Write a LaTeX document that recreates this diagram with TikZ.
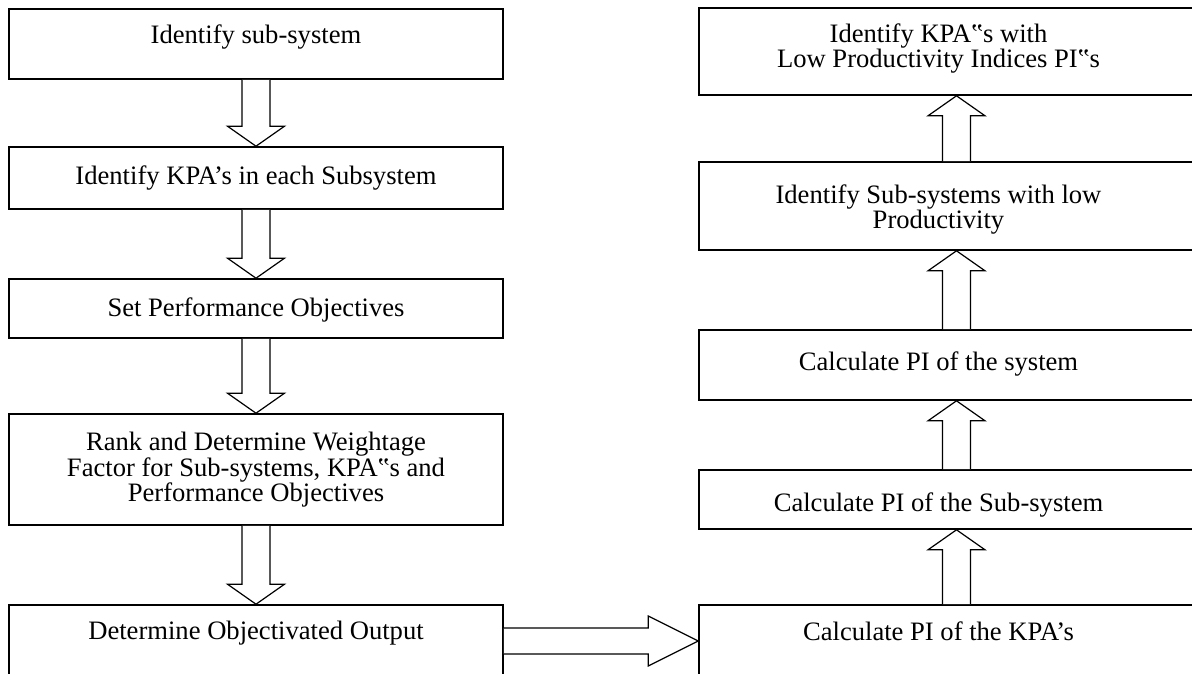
\documentclass[tikz,border=0pt]{standalone}
\usepackage{fontspec}
\setmainfont{Liberation Serif}
\usetikzlibrary{calc}

% outlined block arrow from one box to the next (#3: + down, - up)
\newcommand{\blockarrow}[3]{%
  \draw[blk] let \p1=(#1), \p2=(#2) in
    (\x1-14pt,\y1) -- (\x1-14pt,\y2 #3 20pt) -- (\x1-28.5pt,\y2 #3 20pt) -- (\x1,\y2)
    -- (\x1+28.5pt,\y2 #3 20pt) -- (\x1+14pt,\y2 #3 20pt) -- (\x1+14pt,\y1);}

\begin{document}
\begin{tikzpicture}[
  x=1pt, y=-1pt,
  every node/.style={font=\fontsize{26.6pt}{24pt}\selectfont},
  box/.style={draw, line width=1.6pt, minimum width=494pt, inner sep=0pt},
  rbox/.style={box, minimum width=515pt},
  txt/.style={align=center, inner sep=0pt, anchor=north},
  rtxt/.style={txt, xshift=-18pt},
  blk/.style={draw, line width=1.2pt, fill=white, line join=miter},
]
\useasboundingbox (0,0) rectangle (1192,673);
\clip (0,0) rectangle (1192,673);

% Left column
\node[box, minimum height=70pt,
      label={[txt, yshift=-16pt]north:Identify sub-system}] (b1) at (256,44) {};
\node[box, minimum height=62pt,
      label={[txt, yshift=-19pt]north:Identify KPA’s in each Subsystem}] (b2) at (256,178) {};
\node[box, minimum height=59pt,
      label={[txt, yshift=-19pt]north:Set Performance Objectives}] (b3) at (256,308.5) {};
\node[box, minimum height=111pt,
      label={[txt, yshift=-19pt]north:{Rank and Determine Weightage\\Factor for Sub-systems, KPA‟s and\\Performance Objectives}}] (b4) at (256,469.5) {};
\node[box, minimum height=72pt,
      label={[txt, yshift=-17pt]north:Determine Objectivated Output}] (b5) at (256,641) {};

% Right column
\node[rbox, minimum height=87pt,
      label={[rtxt, yshift=-16pt]north:{Identify KPA‟s with\\Low Productivity Indices PI‟s}}] (r1) at (956.5,51.5) {};
\node[rbox, minimum height=88pt,
      label={[rtxt, yshift=-23pt]north:{Identify Sub-systems with low\\Productivity}}] (r2) at (956.5,206) {};
\node[rbox, minimum height=70pt,
      label={[rtxt, yshift=-22pt]north:Calculate PI of the system}] (r3) at (956.5,365) {};
\node[rbox, minimum height=59pt,
      label={[rtxt, yshift=-23pt]north:Calculate PI of the Sub-system}] (r4) at (956.5,499.5) {};
\node[rbox, minimum height=72pt,
      label={[rtxt, yshift=-17pt]north:Calculate PI of the KPA’s}] (r5) at (956.5,641) {};

% Arrows
\foreach \a/\b in {b1/b2, b2/b3, b3/b4, b4/b5}
  \blockarrow{\a.south}{\b.north}{+};
\foreach \a/\b in {r5/r4, r4/r3, r3/r2, r2/r1}
  \blockarrow{\a.north}{\b.south}{-};
\draw[blk] let \p1=(b5.east), \p2=(r5.west) in
  (\x1,\y1+13pt) -- (\x2-50pt,\y1+13pt) -- (\x2-50pt,\y1+25pt) -- (\x2,\y2)
  -- (\x2-50pt,\y1-25pt) -- (\x2-50pt,\y1-13pt) -- (\x1,\y1-13pt);

\end{tikzpicture}
\end{document}
